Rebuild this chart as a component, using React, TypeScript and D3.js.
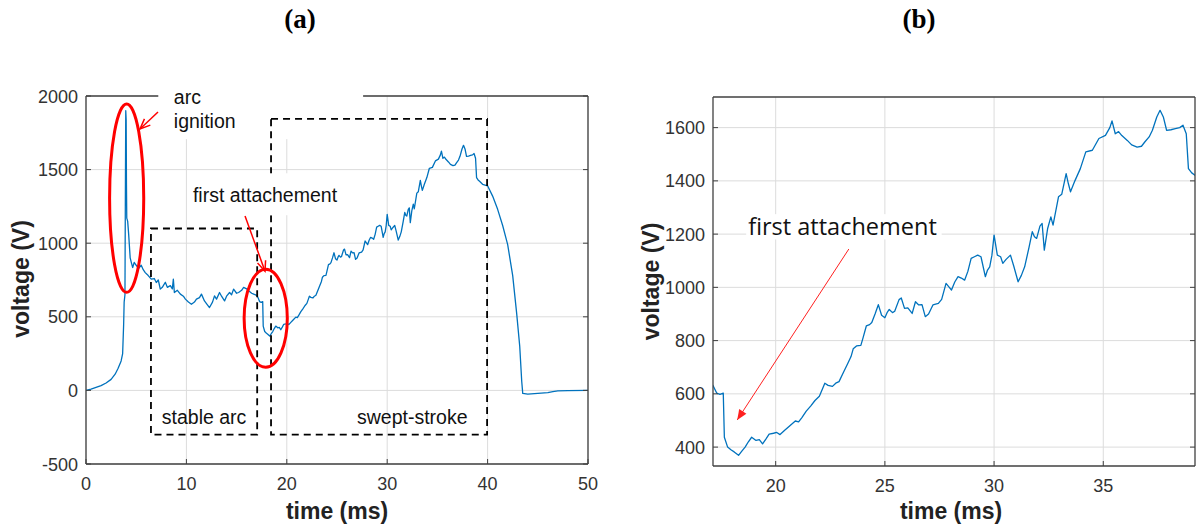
import React from 'react';
import * as d3 from 'd3';

// ---- data ----
const timeMs = [
  0, 0.5, 1.0, 1.5, 2.0, 2.5, 2.9, 3.2, 3.5, 3.65, 3.75, 3.8, 3.88, 3.92, 3.96, 4.0, 4.03, 4.06, 4.15, 4.25,
  4.4, 4.55, 4.65, 4.8, 5.0, 5.25, 5.5, 5.7, 5.9, 6.2, 6.5, 6.8, 7.0, 7.2, 7.4, 7.6, 7.9, 8.1, 8.4, 8.6,
  8.7, 8.8, 9.1, 9.4, 9.7, 9.9, 10.2, 10.5, 10.8, 11.0, 11.3, 11.5, 11.8, 12.0, 12.3, 12.6, 12.8, 13.0, 13.3, 13.5,
  13.8, 14.0, 14.3, 14.5, 14.7, 15.0, 15.2, 15.5, 15.7, 16.0, 16.2, 16.5, 16.7, 17.0, 17.13, 17.3, 17.45, 17.6, 17.65, 17.8,
  17.95, 18.1, 18.3, 18.45, 18.6, 18.75, 18.9, 19.1, 19.25, 19.4, 19.55, 19.7, 19.9, 20.05, 20.2, 20.4, 20.65, 20.9, 21.05, 21.2,
  21.4, 21.6, 21.8, 22.0, 22.15, 22.25, 22.4, 22.6, 22.75, 22.9, 23.1, 23.3, 23.45, 23.55, 23.7, 23.9, 24.0, 24.15, 24.3, 24.4,
  24.55, 24.7, 24.85, 25.0, 25.1, 25.2, 25.35, 25.45, 25.65, 25.75, 25.9, 26.05, 26.25, 26.4, 26.55, 26.7, 26.85, 27.0, 27.2, 27.45,
  27.6, 27.8, 27.95, 28.05, 28.2, 28.35, 28.5, 28.65, 28.8, 28.95, 29.1, 29.25, 29.4, 29.6, 29.7, 29.8, 29.9, 30.0, 30.15, 30.3,
  30.4, 30.55, 30.75, 30.9, 31.1, 31.25, 31.4, 31.6, 31.75, 31.85, 31.95, 32.1, 32.2, 32.3, 32.45, 32.6, 32.7, 32.95, 33.1, 33.3,
  33.4, 33.5, 33.7, 33.95, 34.2, 34.5, 34.8, 35.1, 35.3, 35.4, 35.55, 35.7, 35.85, 36.1, 36.3, 36.55, 36.75, 36.9, 37.1, 37.25,
  37.45, 37.6, 37.75, 37.9, 38.1, 38.3, 38.5, 38.65, 38.8, 38.9, 39.05, 39.2, 39.5, 40.0, 40.5, 41.0, 41.5, 42.0, 42.5, 42.9,
  43.2, 43.4, 43.5, 44.0, 45.0, 46.0, 46.5, 47.0, 48.0, 50.0,
];
const voltageV = [
  0, 8, 20, 32, 50, 75, 110, 150, 200, 250, 450, 600, 650, 1300, 1900, 1840, 1400, 1170, 1150, 1060,
  900, 860, 835, 870, 850, 830, 850, 820, 800, 780, 756, 760, 733, 750, 688, 700, 735, 700, 712, 690,
  756, 665, 680, 654, 640, 620, 600, 585, 600, 620, 630, 654, 608, 590, 563, 600, 642, 620, 665, 640,
  608, 640, 665, 650, 688, 660, 665, 680, 700, 690, 677, 660, 654, 645, 631, 603, 598, 603, 437, 400,
  390, 382, 369, 385, 400, 420, 437, 425, 428, 412, 430, 449, 452, 455, 447, 462, 480, 498, 495, 511,
  535, 554, 575, 591, 620, 640, 632, 628, 640, 646, 680, 714, 740, 769, 780, 782, 810, 855, 860, 868,
  900, 935, 895, 886, 905, 917, 905, 910, 954, 960, 921, 923, 902, 946, 934, 935, 890, 900, 934, 940,
  955, 1015, 1000, 990, 1020, 1040, 1035, 1027, 1060, 1109, 1115, 1121, 1115, 1040, 1065, 1077, 1120, 1196, 1121, 1115,
  1090, 1105, 1121, 1080, 1021, 1045, 1077, 1150, 1209, 1190, 1184, 1230, 1240, 1140, 1220, 1265, 1234, 1340, 1350, 1427,
  1390, 1359, 1400, 1446, 1509, 1515, 1559, 1571, 1600, 1625, 1577, 1585, 1570, 1552, 1535, 1527, 1530, 1546, 1565, 1590,
  1640, 1665, 1640, 1590, 1592, 1596, 1600, 1609, 1577, 1446, 1430, 1421, 1400, 1390, 1320, 1230, 1120, 990, 780, 520,
  300, 60, -20, -25, -20, -15, -8, -3, -1, 0,
];

const xTicksA = [0, 10, 20, 30, 40, 50];
const yTicksA = [-500, 0, 500, 1000, 1500, 2000];
const xTicksB = [20, 25, 30, 35];
const yTicksB = [400, 600, 800, 1000, 1200, 1400, 1600];

const panelTitles = ['(a)', '(b)'];
const xLabel = 'time (ms)';
const yLabel = 'voltage (V)';

const AX = '#404040';
const GRID = '#dcdcdc';
const LINE = '#0072BD';
const TICKFONT = "'Liberation Sans', Arial, sans-serif";

type Sc = d3.ScaleLinear<number, number>;

function Axes({ x, y, xTicks, yTicks, id }: any) {
  const [x0, x1] = x.range();
  const [y0, y1] = y.range();
  const pts = timeMs.map((t, i) => [t, voltageV[i]] as [number, number]);
  const line = d3.line<[number, number]>().x((d) => x(d[0])).y((d) => y(d[1]));
  const tl = 5;
  return (
    <g>
      <defs>
        <clipPath id={id}>
          <rect x={x0} y={y1} width={x1 - x0} height={y0 - y1} />
        </clipPath>
      </defs>
      {xTicks.map((t: number) => (
        <line key={'gx' + t} x1={x(t)} x2={x(t)} y1={y0} y2={y1} stroke={GRID} strokeWidth={1} />
      ))}
      {yTicks.map((t: number) => (
        <line key={'gy' + t} x1={x0} x2={x1} y1={y(t)} y2={y(t)} stroke={GRID} strokeWidth={1} />
      ))}
      <path d={line(pts) || ''} fill="none" stroke={LINE} strokeWidth={1.3} clipPath={`url(#${id})`} strokeLinejoin="round" />
      <line x1={x0} x2={x1} y1={y0} y2={y0} stroke={AX} strokeWidth={1.3} />
      <line x1={x0} x2={x0} y1={y0} y2={y1} stroke={AX} strokeWidth={1.3} />
      <line x1={x1} x2={x1} y1={y0} y2={y1} stroke={AX} strokeWidth={1.3} />
      <line x1={x0} x2={x1} y1={y1} y2={y1} stroke={AX} strokeWidth={1.3} />
      {xTicks.map((t: number) => (
        <g key={'tx' + t}>
          <line x1={x(t)} x2={x(t)} y1={y0} y2={y0 - tl} stroke={AX} strokeWidth={1} />
          <text x={x(t)} y={y0 + 26} textAnchor="middle" fontFamily={TICKFONT} fontSize={18} fill="#333">{t}</text>
        </g>
      ))}
      {yTicks.map((t: number) => (
        <g key={'ty' + t}>
          <line x1={x0} x2={x0 + tl} y1={y(t)} y2={y(t)} stroke={AX} strokeWidth={1} />
          <line x1={x1} x2={x1 - tl} y1={y(t)} y2={y(t)} stroke={AX} strokeWidth={1} />
          <text x={x0 - 8} y={y(t) + 6.5} textAnchor="end" fontFamily={TICKFONT} fontSize={18} fill="#333">{t}</text>
        </g>
      ))}
    </g>
  );
}

function Arrow({ x1, y1, x2, y2, color, width, head, filled }: any) {
  const ang = Math.atan2(y2 - y1, x2 - x1);
  const a1 = ang + Math.PI - 0.4;
  const a2 = ang + Math.PI + 0.4;
  const p1 = [x2 + head * Math.cos(a1), y2 + head * Math.sin(a1)];
  const p2 = [x2 + head * Math.cos(a2), y2 + head * Math.sin(a2)];
  return (
    <g>
      <line x1={x1} y1={y1} x2={x2} y2={y2} stroke={color} strokeWidth={width} />
      {filled ? (
        <path d={`M${x2},${y2}L${p1[0]},${p1[1]}L${p2[0]},${p2[1]}Z`} fill={color} />
      ) : (
        <path d={`M${p1[0]},${p1[1]}L${x2},${y2}L${p2[0]},${p2[1]}`} fill="none" stroke={color} strokeWidth={width} />
      )}
    </g>
  );
}

export default function App() {
  const xA: Sc = d3.scaleLinear().domain([0, 50]).range([86, 588]);
  const yA: Sc = d3.scaleLinear().domain([-500, 2000]).range([464, 96]);
  const xB: Sc = d3.scaleLinear().domain([17.13, 39.2]).range([713, 1195]);
  const yB: Sc = d3.scaleLinear().domain([329, 1715]).range([466, 97]);

  const annFont = "'Liberation Sans', Arial, sans-serif";
  const titleFont = "'Liberation Serif', 'Times New Roman', serif";
  const rect = (xs: Sc, ys: Sc, t0: number, t1: number, v0: number, v1: number) => ({
    x: xs(t0), y: ys(v1), width: xs(t1) - xs(t0), height: ys(v0) - ys(v1),
  });
  const stable = rect(xA, yA, 6.47, 17.05, -300, 1100);
  const swept = rect(xA, yA, 18.43, 39.95, -300, 1844);
  const igBox = rect(xA, yA, 7.2, 27.6, 1707, 2090);
  const faBox = rect(xA, yA, 10.2, 25.8, 1190, 1475);
  const faBoxB = rect(xB, yB, 18.65, 27.6, 1180, 1275);

  return (
    <svg width={1198} height={531} style={{ position: 'absolute', left: 0, top: 0, background: '#fff' }}>
      <rect width={1198} height={531} fill="#fff" />
      <text x={300} y={28} textAnchor="middle" fontFamily={titleFont} fontWeight="bold" fontSize={27}>{panelTitles[0]}</text>
      <text x={919} y={28} textAnchor="middle" fontFamily={titleFont} fontWeight="bold" fontSize={27}>{panelTitles[1]}</text>

      {/* Panel (a) */}
      <Axes x={xA} y={yA} xTicks={xTicksA} yTicks={yTicksA} id="clipA" />
      <rect x={igBox.x} y={igBox.y} width={igBox.width} height={igBox.height} fill="#fff" />
      <rect x={stable.x} y={stable.y} width={stable.width} height={stable.height} fill="none" stroke="#000" strokeWidth={1.8} strokeDasharray="7,5" />
      <rect x={swept.x} y={swept.y} width={swept.width} height={swept.height} fill="none" stroke="#000" strokeWidth={1.8} strokeDasharray="7,5" />
      <rect x={faBox.x} y={faBox.y} width={faBox.width} height={faBox.height} fill="#fff" />
      <text x={xA(10.65)} y={yA(1280)} fontFamily={annFont} fontSize={19.5} fill="#111">first attachement</text>
      <ellipse cx={xA(4.05)} cy={yA(1306)} rx={xA(1.7) - xA(0)} ry={yA(0) - yA(640)} fill="none" stroke="#ff0000" strokeWidth={3} />
      <ellipse cx={xA(17.9)} cy={yA(490)} rx={xA(2.15) - xA(0)} ry={yA(0) - yA(333)} fill="none" stroke="#ff0000" strokeWidth={3} />
      <Arrow x1={xA(15.84)} y1={yA(1184)} x2={xA(17.83)} y2={yA(810)} color="#ff0000" width={1.5} head={11} />
      <text x={stable.x + stable.width / 2} y={yA(-230)} textAnchor="middle" fontFamily={annFont} fontSize={19.5} fill="#111">stable arc</text>
      <text x={xA(32.5)} y={yA(-230)} textAnchor="middle" fontFamily={annFont} fontSize={19.5} fill="#111">swept-stroke</text>
      <text x={xA(8.75)} y={yA(1945)} fontFamily={annFont} fontSize={19.5} fill="#111">arc</text>
      <text x={xA(8.75)} y={yA(1785)} fontFamily={annFont} fontSize={19.5} fill="#111">ignition</text>
      <Arrow x1={xA(7.17)} y1={yA(1891)} x2={xA(5.38)} y2={yA(1776)} color="#ff0000" width={1.5} head={11} />
      <text transform={`translate(29,${(yA(-500) + yA(2000)) / 2 - 1}) rotate(-90)`} textAnchor="middle" fontFamily={TICKFONT} fontWeight="bold" fontSize={23} fill="#222">{yLabel}</text>
      <text x={(xA(0) + xA(50)) / 2} y={519} textAnchor="middle" fontFamily={TICKFONT} fontWeight="bold" fontSize={23} fill="#222">{xLabel}</text>

      {/* Panel (b) */}
      <Axes x={xB} y={yB} xTicks={xTicksB} yTicks={yTicksB} id="clipB" />
      <rect x={faBoxB.x} y={faBoxB.y} width={faBoxB.width} height={faBoxB.height} fill="#fff" />
      <text x={xB(18.74)} y={yB(1196)} fontFamily="'Open Sans', 'Noto Sans', sans-serif" fontSize={23.5} fill="#111">first attachement</text>
      <Arrow x1={xB(23.35)} y1={yB(1144)} x2={xB(18.24)} y2={yB(502)} color="#ff2020" width={1} head={11} filled />
      <text transform={`translate(659,${(yB(329) + yB(1715)) / 2}) rotate(-90)`} textAnchor="middle" fontFamily={TICKFONT} fontWeight="bold" fontSize={23} fill="#222">{yLabel}</text>
      <text x={951} y={519} textAnchor="middle" fontFamily={TICKFONT} fontWeight="bold" fontSize={23} fill="#222">{xLabel}</text>
    </svg>
  );
}
